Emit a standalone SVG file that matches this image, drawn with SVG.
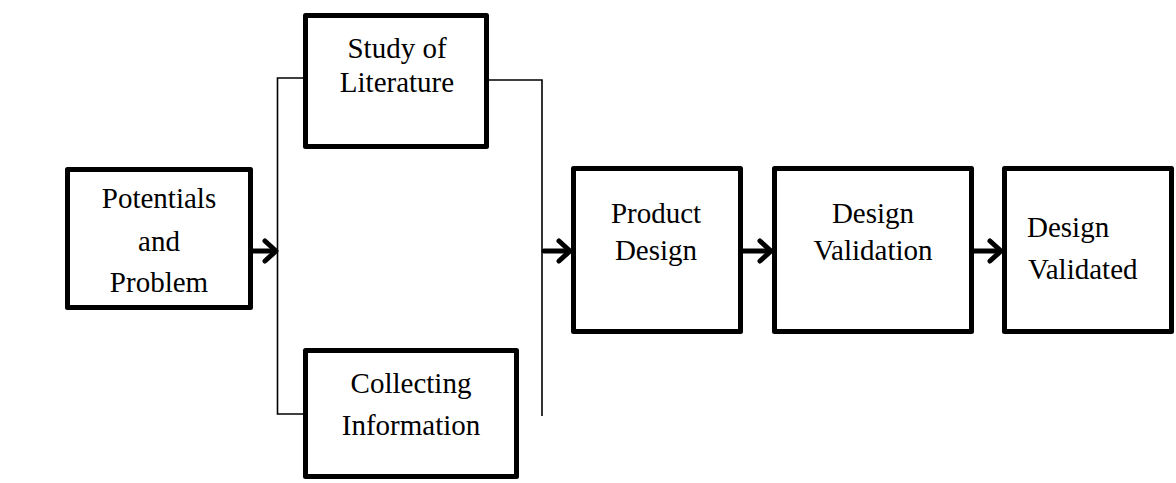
<svg xmlns="http://www.w3.org/2000/svg" width="1176" height="483" viewBox="0 0 1176 483" font-family="'Liberation Serif', 'Times New Roman', serif">
<defs>
<style>
.box{fill:#fff;stroke:#000;stroke-width:5;stroke-linejoin:round}
text{font-family:'Liberation Serif','Times New Roman',serif;font-size:29px;fill:#000}
.c{text-anchor:middle}
.ln{stroke:#000;stroke-width:1.6;fill:none}
.sh{stroke:#000;stroke-width:5;fill:none;stroke-linecap:round;stroke-linejoin:round}
</style>
</defs>
<rect width="1176" height="483" fill="#fff"/>
<g id="connectors">
<path class="ln" d="M305 78 H277.5 V414 H305"/>
<path class="ln" d="M488 80 H542 V416"/>
<g id="a1"><path class="sh" d="M253 251 H275"/><path class="sh" d="M265 241 L276 251 L265 261"/></g>
<g id="a2"><path class="sh" d="M544 251 H569"/><path class="sh" d="M559 241 L570 251 L559 261"/></g>
<g id="a3"><path class="sh" d="M743 251 H770"/><path class="sh" d="M760 241 L771 251 L760 261"/></g>
<g id="a4"><path class="sh" d="M974 251 H1000"/><path class="sh" d="M990 241 L1001 251 L990 261"/></g>
</g>
<g id="potentials">
<rect class="box" x="67.5" y="169.5" width="183" height="138"/>
<text class="c" x="159" y="208">Potentials</text>
<text class="c" x="159" y="251">and</text>
<text class="c" x="159" y="292">Problem</text>
</g>
<g id="study">
<rect class="box" x="305.5" y="15.5" width="181" height="131"/>
<text class="c" x="397" y="58">Study of</text>
<text class="c" x="397" y="92">Literature</text>
</g>
<g id="collecting">
<rect class="box" x="305.5" y="350.5" width="211" height="126"/>
<text class="c" x="411" y="393">Collecting</text>
<text class="c" x="411" y="435">Information</text>
</g>
<g id="product">
<rect class="box" x="573.5" y="168.5" width="167" height="163"/>
<text class="c" x="656" y="223">Product</text>
<text class="c" x="656" y="260">Design</text>
</g>
<g id="validation">
<rect class="box" x="774.5" y="168.5" width="197" height="163"/>
<text class="c" x="873" y="223">Design</text>
<text class="c" x="873" y="260">Validation</text>
</g>
<g id="validated">
<rect class="box" x="1004.5" y="168.5" width="167" height="163"/>
<text x="1027" y="237">Design</text>
<text x="1028" y="279">Validated</text>
</g>
</svg>
